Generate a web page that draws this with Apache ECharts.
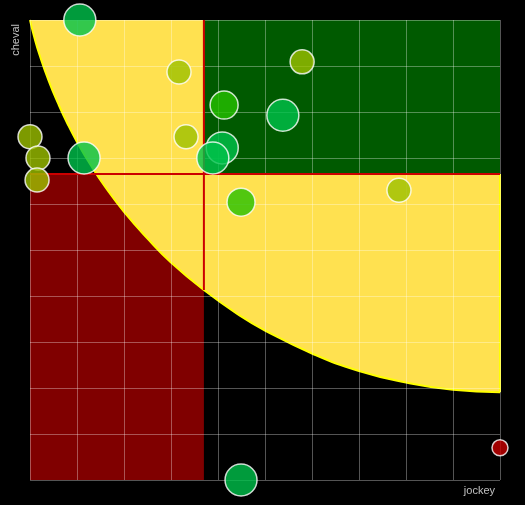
<!DOCTYPE html>
<html>
<head>
<meta charset="utf-8">
<script src="https://cdn.jsdelivr.net/npm/echarts@6/dist/echarts.min.js"></script>
<style>
html,body{margin:0;padding:0;background:#000;}
#chart{width:525px;height:505px;}
</style>
</head>
<body>
<div id="chart"></div>
<script>
// ---- data ----
const jockey = [10.6, 31.7, 57.9, 41.3, 53.8, 0, 33.2, 40.9, 38.9, 1.7, 11.5, 1.5, 44.9, 78.5, 44.9, 100];
const cheval = [100, 88.7, 90.9, 81.5, 79.3, 74.6, 74.6, 72.2, 70.0, 70.0, 70.0, 65.2, 60.4, 63.0, 0, 7.0];
const score  = [4, 2, 2, 3, 4, 2, 2, 4, 4, 2, 4, 2, 3, 2, 4, 1];

// boundary curve of the yellow zone
const curveJockey = [0, 1, 2, 4, 6, 8, 10, 13, 16, 20, 25, 30, 37, 45, 50, 60, 70, 80, 90, 100];
const curveCheval = [100, 95.9, 92.5, 86.7, 81.8, 77.4, 73.5, 68.3, 63.7, 58.3, 52.5, 47.3, 41.3, 35.5, 32.5, 27.5, 23.7, 21.2, 19.6, 19.1];

// thresholds
const jockeyCut = 37;
const chevalCut = 66.5;
const axisMin = 0, axisMax = 100, axisStep = 10;

// ---- styles ----
const scoreColor = {1: '#c80000', 2: '#9cc000', 3: '#26c000', 4: '#00c24b'};
const scoreSize  = {1: 16, 2: 24, 3: 28, 4: 32};

const points = jockey.map((x, i) => [x, cheval[i], score[i]]);
const curve = curveJockey.map((x, i) => [x, curveCheval[i]]);
const curveAtCut = curveCheval[curveJockey.indexOf(jockeyCut)];

function rectRender(params, api) {
  const p0 = api.coord([api.value(0), api.value(3)]);
  const p1 = api.coord([api.value(2), api.value(1)]);
  return {
    type: 'rect',
    shape: {x: p0[0], y: p0[1], width: p1[0] - p0[0], height: p1[1] - p0[1]},
    style: {fill: api.visual('color')}
  };
}

const chart = echarts.init(document.getElementById('chart'), null, {renderer: 'canvas'});
chart.setOption({
  animation: false,
  backgroundColor: '#000',
  grid: {left: 30, right: 25, top: 20, bottom: 25},
  xAxis: {
    type: 'value', min: axisMin, max: axisMax, interval: axisStep, z: 4,
    name: 'jockey', nameLocation: 'end', nameGap: -5,
    nameTextStyle: {color: '#c0c0c0', fontSize: 11, fontFamily: 'Liberation Sans, Arial, sans-serif',
      align: 'right', verticalAlign: 'top', padding: [5, 0, 0, 0]},
    axisLine: {show: false}, axisTick: {show: false}, axisLabel: {show: false},
    splitLine: {show: true, lineStyle: {color: 'rgba(255,255,255,0.33)', width: 1}}
  },
  yAxis: {
    type: 'value', min: axisMin, max: axisMax, interval: axisStep, z: 4,
    name: 'cheval', nameLocation: 'end', nameGap: -4, nameRotate: 90,
    nameTextStyle: {color: '#c0c0c0', fontSize: 11, fontFamily: 'Liberation Sans, Arial, sans-serif',
      align: 'right', verticalAlign: 'bottom', padding: [0, 0, 9, 0]},
    axisLine: {show: false}, axisTick: {show: false}, axisLabel: {show: false},
    splitLine: {show: true, lineStyle: {color: 'rgba(255,255,255,0.33)', width: 1}}
  },
  series: [
    {
      type: 'custom', z: 1, renderItem: rectRender, silent: true,
      itemStyle: {color: '#800000'},
      data: [[axisMin, axisMin, jockeyCut, chevalCut]]
    },
    {
      type: 'line', z: 2, data: curve, smooth: true, symbol: 'none', silent: true,
      lineStyle: {color: '#ffff00', width: 2},
      areaStyle: {color: '#ffe150', opacity: 1, origin: 'end'}
    },
    {
      type: 'line', z: 2, data: [[axisMax, curveCheval[curveCheval.length - 1]], [axisMax, chevalCut]],
      symbol: 'none', silent: true, lineStyle: {color: '#ffff00', width: 2}
    },
    {
      type: 'custom', z: 3, renderItem: rectRender, silent: true,
      itemStyle: {color: '#005a00'},
      data: [[jockeyCut, chevalCut, axisMax, axisMax]]
    },
    {
      type: 'line', z: 5, data: [[axisMin, chevalCut], [axisMax, chevalCut]],
      symbol: 'none', silent: true, lineStyle: {color: '#cc0000', width: 2}
    },
    {
      type: 'line', z: 5, data: [[jockeyCut, axisMax], [jockeyCut, curveAtCut]],
      symbol: 'none', silent: true, lineStyle: {color: '#cc0000', width: 2}
    },
    {
      type: 'scatter', z: 6, clip: false, data: points,
      symbolSize: v => scoreSize[v[2]],
      itemStyle: {
        color: p => scoreColor[p.data[2]],
        opacity: 0.8, borderColor: '#ffffff', borderWidth: 1.5
      }
    }
  ]
});
</script>
</body>
</html>
